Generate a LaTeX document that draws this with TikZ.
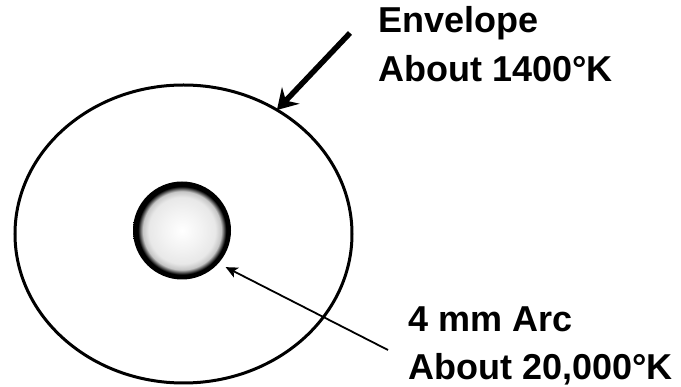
\documentclass[tikz,border=0pt]{standalone}
\usepackage{fontspec}
\setmainfont{Liberation Sans}
\usetikzlibrary{shapes.geometric,arrows.meta}
\pgfdeclareradialshading{arcshade}{\pgfpoint{0bp}{0bp}}{color(0bp)=(white); color(10bp)=(gray!10); color(17bp)=(gray!18); color(20bp)=(gray!45); color(22.5bp)=(black); color(50bp)=(black)}
\tikzset{
  lbl/.style={anchor=base west, inner sep=0pt, font=\fontsize{36}{36}\selectfont\bfseries},
  thickarrow/.style={line width=5.5pt, -{Stealth[length=20pt,width=24pt,inset=7pt]}},
  thinarrow/.style={line width=1.8pt, -{Stealth[length=12pt,width=11pt,inset=3pt]}},
}
\begin{document}
\begin{tikzpicture}[x=1pt,y=-1pt]
\useasboundingbox[fill=white] (0,0) rectangle (681,387);
\node[ellipse, draw, line width=3pt, minimum width=337pt, minimum height=298pt, inner sep=0pt, outer sep=0pt] (env) at (183.5,234) {};
\node[circle, shading=arcshade, minimum size=98pt, inner sep=0pt, outer sep=8pt] (arc) at (182,230.5) {};
\node[lbl] (t1) at (378,33) {Envelope};
\node[lbl] (t2) at (378,82) {About 1400°K};
\node[lbl] (t3) at (408,332) {4 mm Arc};
\node[lbl] (t4) at (408,380) {About 20,000°K};
\coordinate (envtail) at (350,33);
\coordinate (arctail) at (388,350);
\draw[thickarrow] (envtail) -- (env.53);
\draw[thinarrow] (arctail) -- (arc.-40);
\end{tikzpicture}
\end{document}
